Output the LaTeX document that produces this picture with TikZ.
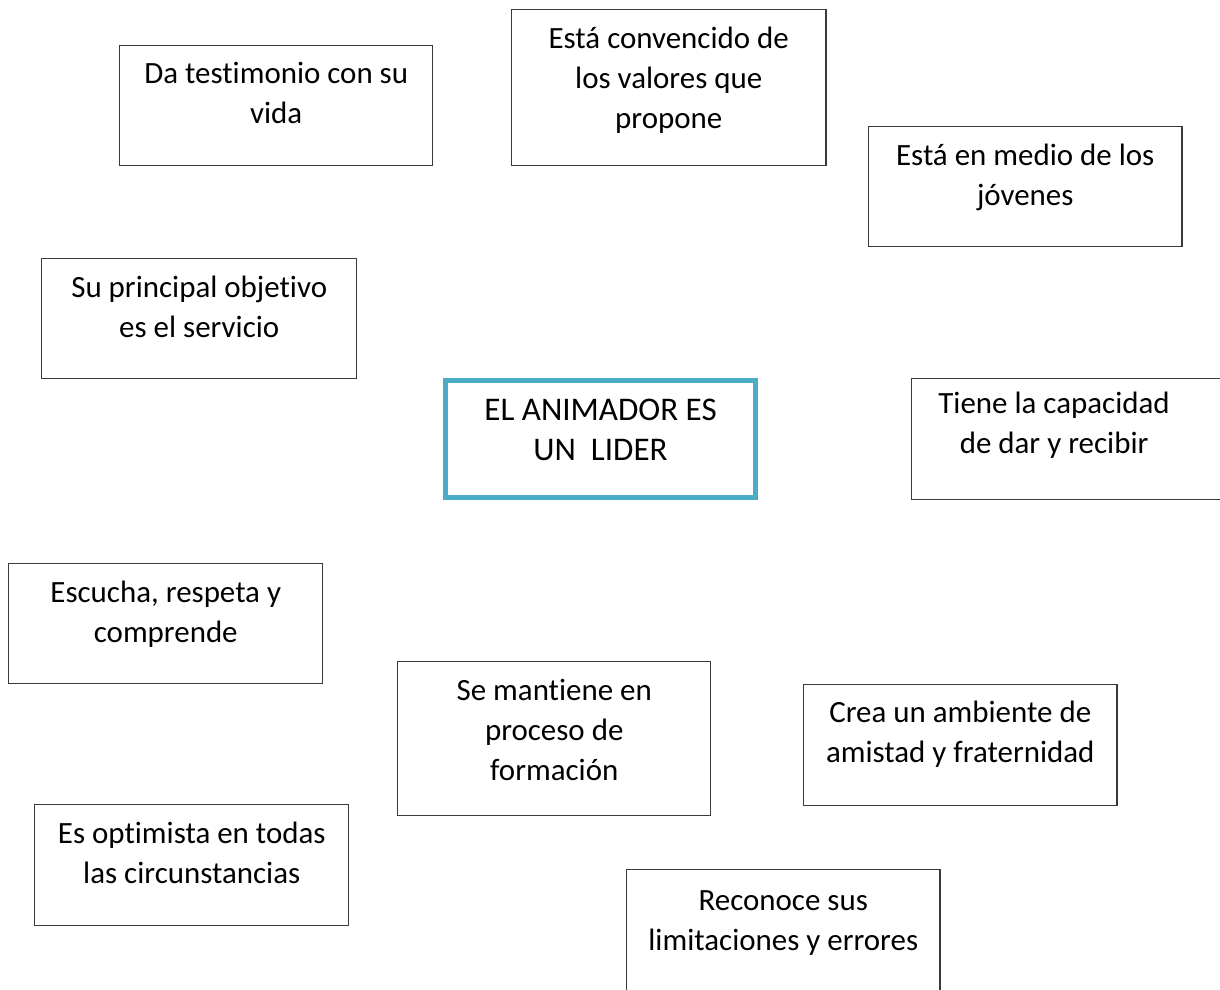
\documentclass[tikz,border=0pt]{standalone}
\usepackage{fontspec}
\setmainfont{Carlito}[Ligatures=NoCommon]
\usetikzlibrary{positioning}
\definecolor{lidercolor}{HTML}{4BACC6}
\definecolor{boxgray}{HTML}{3A3A3A}

\tikzset{
  box/.style={rectangle, draw=boxgray, line width=1pt, inner sep=0pt, anchor=north west},
  mainbox/.style={box, draw=lidercolor, line width=3.6pt, outer sep=0pt},
  txt/.style={align=center, inner sep=0pt, anchor=base, font=\fontsize{22}{28.45}\selectfont},
  maintxt/.style={txt, font=\fontsize{23.5}{28.45}\selectfont}
}

\begin{document}
\begin{tikzpicture}[x=0.025cm, y=-0.025cm]
  \useasboundingbox (0,0) rectangle (1220,989);

  % boxes
  \node[box, minimum width=7.825cm, minimum height=3cm]    (testimonio) at (119,45) {};
  \node[box, minimum width=7.85cm,  minimum height=3.9cm]  (convencido) at (511,9) {};
  \node[box, minimum width=7.825cm, minimum height=3cm]    (jovenes)    at (868,126) {};
  \node[box, minimum width=7.875cm, minimum height=3cm]    (servicio)   at (41,258) {};
  \node[mainbox, minimum width=7.75cm, minimum height=2.925cm] (lider) at (445.5,380.5) {};
  \node[box, minimum width=8.225cm, minimum height=3.025cm] (capacidad) at (911,378) {};
  \node[box, minimum width=7.85cm,  minimum height=3cm]    (escucha)    at (8,563) {};
  \node[box, minimum width=7.825cm, minimum height=3.85cm] (formacion)  at (397,661) {};
  \node[box, minimum width=7.825cm, minimum height=3.025cm] (amistad)   at (803,684) {};
  \node[box, minimum width=7.85cm,  minimum height=3.025cm] (optimista) at (34,804) {};
  \node[box, minimum width=7.825cm, minimum height=3.525cm] (limites)   at (626,869) {};

  % texts (base = last line)
  \node[txt] (t-testimonio) at ([yshift=-1.95cm]testimonio.north)  {Da testimonio con su\\vida};
  \node[txt] (t-convencido) at ([yshift=-2.975cm]convencido.north) {Está convencido de\\los valores que\\propone};
  \node[txt] (t-jovenes)    at ([yshift=-1.975cm]jovenes.north)    {Está en medio de los\\jóvenes};
  \node[txt] (t-servicio)   at ([yshift=-1.975cm]servicio.north)   {Su principal objetivo\\es el servicio};
  \node[maintxt] (t-lider)  at ([yshift=-1.99cm]lider.north)       {EL ANIMADOR ES\\UN~~LIDER};
  \node[txt] (t-capacidad)  at ([xshift=3.575cm, yshift=-1.875cm]capacidad.north west) {Tiene la capacidad\\de dar y recibir};
  \node[txt] (t-escucha)    at ([yshift=-1.975cm]escucha.north)    {Escucha, respeta y\\comprende};
  \node[txt] (t-formacion)  at ([yshift=-2.975cm]formacion.north)  {Se mantiene en\\proceso de\\formación};
  \node[txt] (t-amistad)    at ([yshift=-1.95cm]amistad.north)     {Crea un ambiente de\\amistad y fraternidad};
  \node[txt] (t-optimista)  at ([yshift=-1.975cm]optimista.north)  {Es optimista en todas\\las circunstancias};
  \node[txt] (t-limites)    at ([yshift=-2.025cm]limites.north)    {Reconoce sus\\limitaciones y errores};
\end{tikzpicture}
\end{document}
